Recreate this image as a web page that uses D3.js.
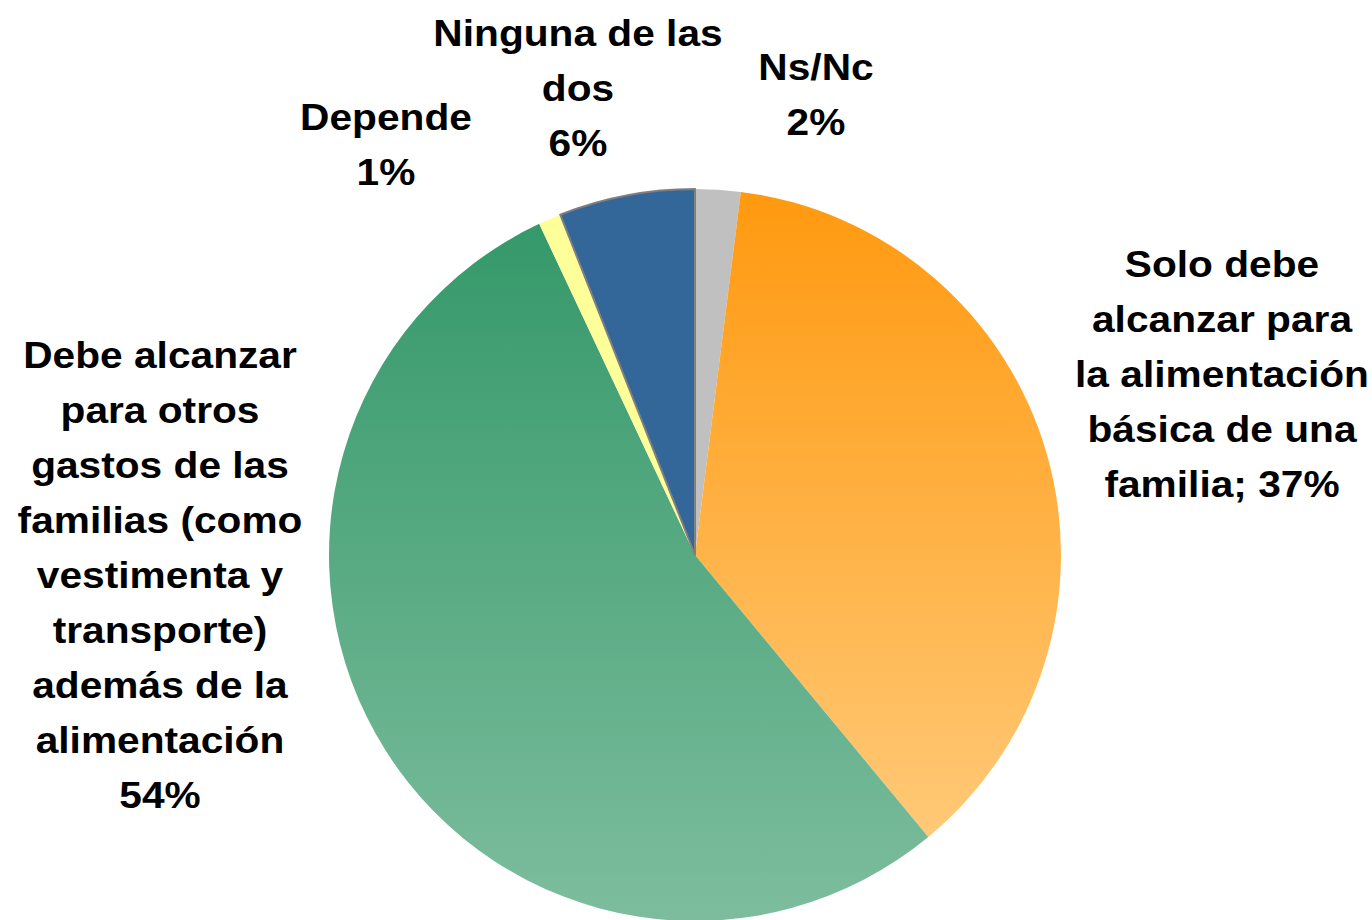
<!DOCTYPE html>
<html>
<head>
<meta charset="utf-8">
<script src="https://cdn.jsdelivr.net/npm/d3@7"></script>
<style>
  html, body { margin: 0; padding: 0; background: #fff; }
  svg { display: block; }
  text { font-family: "Liberation Sans", Arial, sans-serif; font-weight: bold; fill: #000; }
</style>
</head>
<body>
<svg id="chart" width="1372" height="920"></svg>
<script>
// slices, clockwise from 12 o'clock
const categories = ['Ns/Nc', 'Solo debe', 'Debe alcanzar', 'Depende', 'Ninguna'];
const values = [2, 37, 54, 1, 6];
const labelLines = [
  ['Ns/Nc'],
  ['Solo debe', 'alcanzar para', 'la alimentación', 'básica de una', 'familia'],
  ['Debe alcanzar', 'para otros', 'gastos de las', 'familias (como', 'vestimenta y', 'transporte)', 'además de la', 'alimentación'],
  ['Depende'],
  ['Ninguna de las', 'dos']
];
const pctJoin = ['\n', '; ', '\n', '\n', '\n'];

// styling / layout (not data)
const fills = {
  'Ns/Nc': ['#c0c0c0', '#c0c0c0'],
  'Solo debe': ['#ff990f', '#ffc977'],
  'Debe alcanzar': ['#35996a', '#7dbd9e'],
  'Depende': ['#ffff99', '#ffff99'],
  'Ninguna': ['#336699', '#336699']
};
const labelPos = {           // label block centres, relative to pie centre
  'Ns/Nc': [121, -460],
  'Solo debe': [527, -181],
  'Debe alcanzar': [-535, 20],
  'Depende': [-309, -410],
  'Ninguna': [-117, -467]
};

const svg = d3.select('#chart'),
      cx = 695, cy = 555, r = 366,
      lineH = 55;

const defs = svg.append('defs');
categories.forEach((c, i) => {
  const g = defs.append('linearGradient').attr('id', 'grad' + i)
    .attr('x1', 0).attr('y1', 0).attr('x2', 0).attr('y2', 1);
  g.append('stop').attr('offset', '0%').attr('stop-color', fills[c][0]);
  g.append('stop').attr('offset', '100%').attr('stop-color', fills[c][1]);
});

const pie = d3.pie().sort(null).value(d => d.v);
const arcs = pie(categories.map((c, i) => ({ c, v: values[i], i })));
const arc = d3.arc().innerRadius(0).outerRadius(r);

const g = svg.append('g').attr('transform', `translate(${cx},${cy})`);
g.selectAll('path').data(arcs).enter().append('path')
  .attr('d', arc)
  .attr('fill', d => `url(#grad${d.data.i})`)
  .attr('stroke', d => d.data.c === 'Ninguna' ? '#7f7f7f' : 'none')
  .attr('stroke-width', 2)
  .attr('stroke-linejoin', 'round');
// keep the outlined slice on top
g.selectAll('path').filter(d => d.data.c === 'Ninguna').raise();

// labels
arcs.forEach(d => {
  const c = d.data.c, i = d.data.i;
  const lines = labelLines[i].slice();
  const pct = values[i] + '%';
  if (pctJoin[i] === '\n') lines.push(pct);
  else lines[lines.length - 1] += pctJoin[i] + pct;
  const [dx, dy] = labelPos[c];
  const t = g.append('g')
    .attr('transform', `translate(${dx},${dy}) scale(1.13,1)`)
    .append('text')
    .attr('text-anchor', 'middle')
    .style('font-size', '36px');
  lines.forEach((l, k) => {
    t.append('tspan')
      .attr('x', 0)
      .attr('y', (k - (lines.length - 1) / 2) * lineH)
      .attr('dy', '0.36em')
      .text(l);
  });
});
</script>
</body>
</html>
